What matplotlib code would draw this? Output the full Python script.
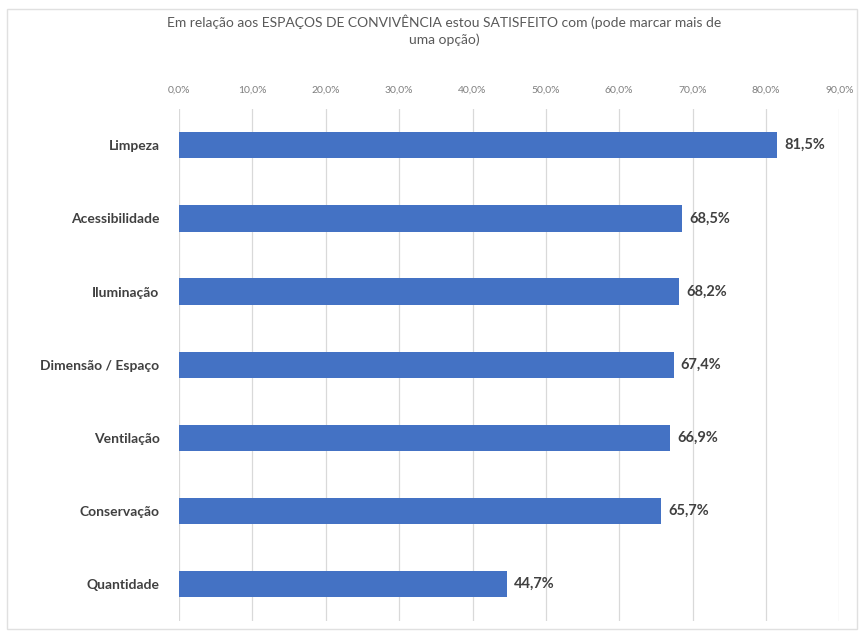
import matplotlib.pyplot as plt
from matplotlib.patches import Rectangle
from matplotlib.ticker import FuncFormatter

plt.rcParams['font.family'] = ['Lato', 'DejaVu Sans']

categories = ['Limpeza', 'Acessibilidade', 'Iluminação', 'Dimensão / Espaço',
              'Ventilação', 'Conservação', 'Quantidade']
values = [81.5, 68.5, 68.2, 67.4, 66.9, 65.7, 44.7]
xticks = [0, 10, 20, 30, 40, 50, 60, 70, 80, 90]

fig = plt.figure(figsize=(8.62, 6.32), dpi=100)
ax = fig.add_axes([0.2077, 0.018, 0.766, 0.81])

ypos = list(range(len(categories)))
bars = ax.barh(ypos, values, height=0.36, color='#4472C4', zorder=3)

for bar, v in zip(bars, values):
    ax.text(bar.get_width() + 1.0, bar.get_y() + bar.get_height() / 2,
            f'{v:.1f}%'.replace('.', ','), va='center', ha='left',
            fontsize=10.5, fontweight='bold', color='#404040')

ax.set_xlim(0, 90)
ax.set_ylim(len(categories) - 0.5, -0.5)
ax.set_yticks(ypos)
ax.set_yticklabels(categories, fontsize=10, fontweight='bold', color='#404040')
ax.set_xticks(xticks)
ax.xaxis.set_major_formatter(FuncFormatter(lambda x, p: f'{x:.1f}%'.replace('.', ',')))
ax.xaxis.tick_top()
ax.tick_params(axis='x', labelsize=7.5, labelcolor='#7f7f7f', length=0, pad=10)
ax.tick_params(axis='y', length=0, pad=14)
ax.grid(axis='x', color='#d9d9d9', linewidth=0.9, zorder=0)
for s in ax.spines.values():
    s.set_visible(False)

fig.text(0.515, 0.952, 'Em relação aos ESPAÇOS DE CONVIVÊNCIA estou SATISFEITO com (pode marcar mais de\numa opção)',
         ha='center', va='center', fontsize=10, color='#595959', linespacing=1.5)

fig.patches.append(Rectangle((0.008, 0.005), 0.986, 0.98, transform=fig.transFigure,
                             fill=False, edgecolor='#e0e0e0', linewidth=1))

fig.savefig('out.png', dpi=100)
